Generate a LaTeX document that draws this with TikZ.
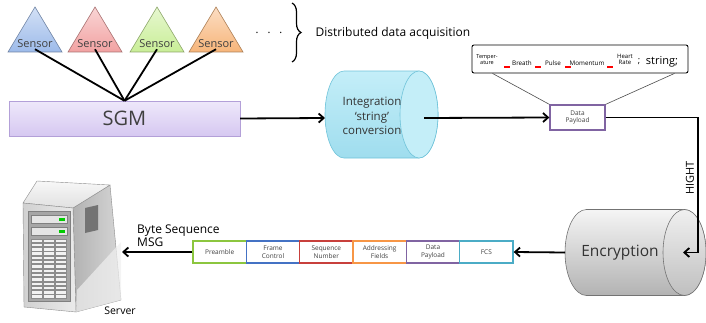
\documentclass[tikz,border=0pt]{standalone}
\usepackage{fontspec}
\setmainfont{Open Sans}
\usetikzlibrary{arrows.meta,decorations.pathreplacing}

\definecolor{sblue}{HTML}{9DBBEA}
\definecolor{sred}{HTML}{F2A2A2}
\definecolor{sgreen}{HTML}{C9EE97}
\definecolor{sorange}{HTML}{F7B57A}
\definecolor{sgmtop}{HTML}{EEE8FA}
\definecolor{sgmbot}{HTML}{D6C8F1}
\definecolor{sgmedge}{HTML}{B3A0D8}
\definecolor{cyltop}{HTML}{C4EEF8}
\definecolor{cylbot}{HTML}{9FDDEE}
\definecolor{cyledge}{HTML}{6FC3D9}
\definecolor{fgreen}{HTML}{8CC63F}
\definecolor{fblue}{HTML}{4472C4}
\definecolor{fred}{HTML}{C8403C}
\definecolor{forange}{HTML}{F79646}
\definecolor{fpurple}{HTML}{8064A2}
\definecolor{fteal}{HTML}{4BACC6}

\begin{document}
\begin{tikzpicture}[x=1pt,y=1pt,
    conn/.style={line width=1.8pt, -{Straight Barb[length=5pt,width=9pt]}},
    wire/.style={line width=1.8pt},
    field/.style={draw, line width=1.4pt, fill=white, minimum width=53.3pt,
        minimum height=22pt, inner sep=0pt, align=center,
        font=\fontsize{6.5}{7.5}\selectfont, text=black!75},
    word/.style={inner sep=0pt, align=center, font=\fontsize{6.3}{6.5}\selectfont}]
    \useasboundingbox (0,0) rectangle (706,322);

    % Sensors
    \foreach \cx/\col [count=\i] in {35/sblue, 95/sred, 157/sgreen, 216/sorange} {
        \draw[\col!70!black, top color=\col!45, bottom color=\col, line width=0.6pt]
            (\cx-27,270) -- (\cx,315) -- (\cx+27,270) -- cycle;
        \node[font=\fontsize{11}{12}\selectfont, text=black!75, inner sep=1pt] (s\i) at (\cx,278) {Sensor};
    }
    \node[font=\fontsize{11}{12}\selectfont] (dots) at (269,289) {.\hspace{9pt}.\hspace{9pt}.};
    \draw[decorate, decoration={brace, amplitude=9pt}, line width=1.2pt] (292,319) -- (292,260);
    \node[anchor=west, font=\fontsize{12}{14}\selectfont] (dda) at (312,289) {Distributed data acquisition};

    % SGM
    \node[draw=sgmedge, top color=sgmtop, bottom color=sgmbot, minimum width=231pt,
        minimum height=35pt, font=\fontsize{20}{24}\selectfont, text=black!75] (sgm) at (124.5,203.5) {SGM};
    \foreach \i in {1,...,4}
        \draw[wire] (s\i.south) -- (sgm.north);

    % Integration cylinder
    \draw[cyledge, top color=cyltop, bottom color=cylbot, line width=0.6pt]
        (344,251) -- (419,251) arc[start angle=90, end angle=-90, x radius=19, y radius=43.5]
        -- (344,164) arc[start angle=270, end angle=90, x radius=19, y radius=43.5] -- cycle;
    \draw[cyledge, fill=cyltop, line width=0.6pt] (419,207.5) ellipse[x radius=19, y radius=43.5];
    \node[align=center, font=\fontsize{11.5}{14.5}\selectfont, text=black!80] (integ) at (372,206) {Integration\\`string'\\conversion};
    \coordinate (integin) at (325,204);
    \coordinate (integout) at (424,204);
    \draw[conn] (sgm.east) -- (integin);

    % Payload and its string
    \node[draw=fpurple, line width=1.3pt, fill=white, minimum width=55pt, minimum height=25pt,
        inner sep=0pt, align=center, font=\fontsize{6.5}{7.5}\selectfont, text=black!75] (dp) at (577.5,204.5) {Data\\Payload};
    \draw[conn] (integout) -- (dp.west);
    \node[draw, rounded corners=2pt, line width=0.9pt, fill=white, minimum width=216pt, minimum height=28pt] (callout) at (580,263) {};
    \draw[black!70, line width=0.6pt] ([xshift=21pt]callout.south west) -- (dp.north west);
    \draw[black!70, line width=0.6pt] ([xshift=-14pt]callout.south east) -- (dp.north east);
    \node[word, font=\fontsize{5.5}{6}\selectfont] (w1) at (487,262.5) {Temper-\\ature};
    \node[word] (w2) at (522,259) {Breath};
    \node[word] (w3) at (553,259) {Pulse};
    \node[word] (w4) at (587,259) {Momentum};
    \node[word, font=\fontsize{6}{6.5}\selectfont] (w5) at (625,262.5) {Heart\\Rate};
    \node[word, font=\fontsize{9}{10}\selectfont] (w6) at (639,260) {;};
    \node[word, font=\fontsize{11}{12}\selectfont] (w7) at (662,260) {string;};
    \foreach \x in {504,535,565,607}
        \draw[red, line width=1.5pt] (\x,255) -- ++(6,0);

    % Encryption cylinder
    \draw[black!55, top color=black!4, bottom color=black!30, line width=0.6pt]
        (586.5,112.5) -- (684.5,112.5) arc[start angle=90, end angle=-90, x radius=21.5, y radius=43]
        -- (586.5,26.5) arc[start angle=270, end angle=90, x radius=21.5, y radius=43] -- cycle;
    \draw[black!55, top color=black!6, bottom color=black!25, line width=0.6pt] (684.5,69.5) ellipse[x radius=21.5, y radius=43];
    \node[font=\fontsize{15.5}{18}\selectfont, text=black!80] (enc) at (620,69) {Encryption};
    \coordinate (encin) at (683,69.5);
    \coordinate (encleft) at (565,69.5);
    \draw[conn] (dp.east) -| ([xshift=15pt]encin) -- (encin);
    \node[rotate=90, font=\fontsize{11}{12}\selectfont] (hight) at (690,144) {HIGHT};

    % Frame fields
    \foreach \lbl/\col [count=\i] in {Preamble/fgreen, Frame\\Control/fblue, Sequence\\Number/fred,
            Addressing\\Fields/forange, Data\\Payload/fpurple, FCS/fteal}
        \node[field, draw=\col] (f\i) at ({166.33+53.33*\i},70) {\lbl};
    \draw[conn] (encleft) -- (f6.east);

    % Server
    \coordinate (srvin) at (122,70);
    \draw[conn] (f1.west) -- (srvin);
    \node[align=left, anchor=west, inner sep=0pt, font=\fontsize{12}{13}\selectfont] (msg) at (137,86) {Byte Sequence\\MSG};
    \draw[black!45, left color=black!30, right color=black!16, line width=0.4pt]
        (73,114) -- (110,137) -- (121,22) -- (76,10) -- cycle;
    \fill[black!6, opacity=0.7] (76,10) -- (121,22) -- (121,80) -- (77,32) -- cycle;
    \draw[black!45, top color=black!3, bottom color=black!12, line width=0.4pt]
        (23,119) -- (73,114) -- (110,137) -- (37,141) -- cycle;
    \draw[black!45, left color=black!18, right color=black!8, line width=0.4pt]
        (23,119) -- (73,114) -- (76,10) -- (24,15) -- cycle;
    \fill[black!55] (85,114) -- (98,117) -- (98,92) -- (85,89) -- cycle;
    \draw[black!50, fill=black!35, line width=0.4pt] (28,21) rectangle (70,111);
    \foreach \y in {99,87} {
        \draw[black!50, fill=black!10, line width=0.3pt] (31,\y) rectangle (67,\y+8);
        \fill[green!80!black] (59,\y+2.5) rectangle (65,\y+5);
    }
    \foreach \c in {0,1,2}
        \foreach \r in {0,...,13}
            \draw[black!45, fill=black!5, line width=0.3pt]
                (31+12.3*\c,24+4.3*\r) rectangle ++(11,3.4);
    \node[font=\fontsize{10.5}{12}\selectfont] (srvlbl) at (120,11) {Server};
\end{tikzpicture}
\end{document}
